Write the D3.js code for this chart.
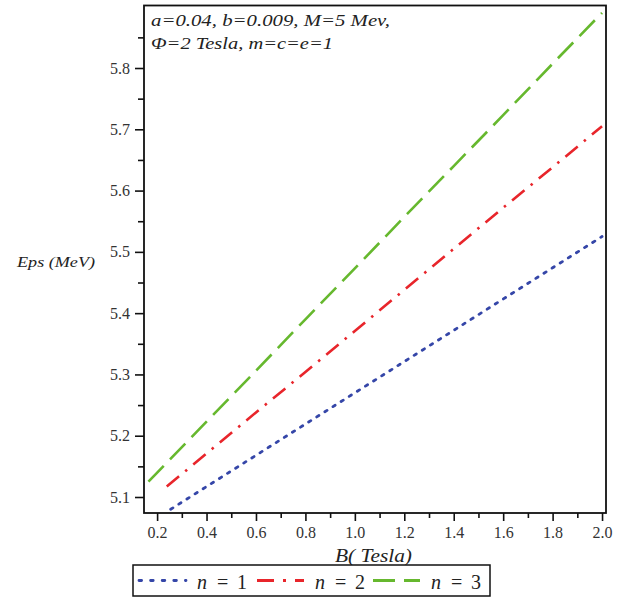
<!DOCTYPE html>
<html><head><meta charset="utf-8">
<script src="https://cdn.jsdelivr.net/npm/d3@7"></script>
<style>body{margin:0;background:#fff}svg{display:block}svg text{font-family:"Liberation Serif","Times New Roman",Times,serif}</style>
</head><body>
<svg id="c" width="624" height="597"></svg>
<script>
const seriesNames = ["n = 1", "n = 2", "n = 3"];
const bN1 = [0.255, 0.4, 0.6, 0.8, 1.0, 1.2, 1.4, 1.6, 1.8, 2.0];
const eN1 = [5.080, 5.117, 5.168, 5.219, 5.270, 5.321, 5.372, 5.423, 5.474, 5.525];
const bN2 = [0.239, 0.4, 0.6, 0.8, 1.0, 1.2, 1.4, 1.6, 1.8, 2.0];
const eN2 = [5.117, 5.171, 5.238, 5.304, 5.371, 5.438, 5.505, 5.572, 5.638, 5.705];
const bN3 = [0.165, 0.4, 0.6, 0.8, 1.0, 1.2, 1.4, 1.6, 1.8, 2.0];
const eN3 = [5.125, 5.223, 5.306, 5.390, 5.473, 5.557, 5.640, 5.723, 5.807, 5.890];
const xTicks = [0.2, 0.4, 0.6, 0.8, 1.0, 1.2, 1.4, 1.6, 1.8, 2.0];
const xMinor = [0.3, 0.5, 0.7, 0.9, 1.1, 1.3, 1.5, 1.7, 1.9];
const yTicks = [5.1, 5.2, 5.3, 5.4, 5.5, 5.6, 5.7, 5.8];
const yMinor = [5.15, 5.25, 5.35, 5.45, 5.55, 5.65, 5.75, 5.85];

const colors = ["#3546a8", "#e8252b", "#66b82e"];
const dashes = ["2.6,7", "16,8,2.5,8", "22,9"];
const caps = ["round", "butt", "butt"];

const svg = d3.select("#c");
const L = 144, R = 606, T = 5.5, B = 513;
const x = d3.scaleLinear().domain([0.147, 2.016]).range([L, R]);
const y = d3.scaleLinear().domain([5.0739, 5.902]).range([B, T]);

svg.append("defs").append("clipPath").attr("id","clip")
  .append("rect").attr("x", L).attr("y", T).attr("width", R-L).attr("height", B-T);

const xMaj = d3.axisBottom(x).tickValues(xTicks).tickFormat(d3.format(".1f")).tickSizeOuter(0).tickSize(8).tickPadding(6);
const xMin = d3.axisBottom(x).tickValues(xMinor).tickFormat("").tickSizeOuter(0).tickSize(5);
const yMaj = d3.axisLeft(y).tickValues(yTicks).tickFormat(d3.format(".1f")).tickSizeOuter(0).tickSize(9).tickPadding(5);
const yMin = d3.axisLeft(y).tickValues(yMinor).tickFormat("").tickSizeOuter(0).tickSize(6);

function styleAxis(g){
  g.attr("font-family", null);
  g.select(".domain").remove();
  g.selectAll("line").attr("stroke","#111").attr("stroke-width",1.6);
  g.selectAll("text").attr("font-size", 16).attr("fill","#333");
}
svg.append("g").attr("transform",`translate(0,${B})`).call(xMaj).call(styleAxis);
svg.append("g").attr("transform",`translate(0,${B})`).call(xMin).call(styleAxis);
svg.append("g").attr("transform",`translate(${L},0)`).call(yMaj).call(styleAxis);
svg.append("g").attr("transform",`translate(${L},0)`).call(yMin).call(styleAxis);

const data = [[bN1,eN1],[bN2,eN2],[bN3,eN3]];
const line = d3.line().x(d=>x(d[0])).y(d=>y(d[1]));
const gl = svg.append("g").attr("clip-path","url(#clip)");
data.forEach((s,i)=>{
  const pts = s[0].map((b,j)=>[b, s[1][j]]);
  gl.append("path").attr("d", line(pts)).attr("fill","none")
    .attr("stroke", colors[i]).attr("stroke-width", i===0?2.8:2.6)
    .attr("stroke-dasharray", dashes[i]).attr("stroke-linecap", caps[i]);
});

svg.append("rect").attr("x",L).attr("y",T).attr("width",R-L).attr("height",B-T)
  .attr("fill","none").attr("stroke","#111").attr("stroke-width",1.8);

svg.append("text").attr("x",151).attr("y",26).attr("font-style","italic")
  .attr("font-size",17).attr("fill","#222").attr("textLength",239).attr("lengthAdjust","spacingAndGlyphs")
  .text("a=0.04, b=0.009, M=5 Mev,");
svg.append("text").attr("x",151).attr("y",49).attr("font-style","italic")
  .attr("font-size",17).attr("fill","#222").attr("textLength",182).attr("lengthAdjust","spacingAndGlyphs")
  .text("Φ=2 Tesla, m=c=e=1");

svg.append("text").attr("x",17).attr("y",267).attr("font-style","italic")
  .attr("font-size",15).attr("fill","#222").attr("textLength",78).attr("lengthAdjust","spacingAndGlyphs")
  .text("Eps (MeV)");
svg.append("text").attr("x",335).attr("y",562).attr("font-style","italic")
  .attr("font-size",18).attr("fill","#222").attr("textLength",77).attr("lengthAdjust","spacingAndGlyphs")
  .text("B( Tesla)");

svg.append("rect").attr("x",133).attr("y",565).attr("width",357).attr("height",31)
  .attr("fill","#fff").attr("stroke","#111").attr("stroke-width",1.5);
const legX = [139, 257, 373];
const legY = 580.5;
seriesNames.forEach((nm,i)=>{
  const x0 = legX[i];
  svg.append("line").attr("x1",x0).attr("x2",x0+47).attr("y1",legY).attr("y2",legY)
    .attr("stroke",colors[i]).attr("stroke-width",2.8)
    .attr("stroke-dasharray", i===0?"2.6,9":(i===1?"17,9,3,9":"22,9"))
    .attr("stroke-linecap", caps[i]);
  const parts = nm.split(" ");
  const tx = x0 + 58;
  svg.append("text").attr("x",tx).attr("y",589).attr("font-style","italic")
    .attr("font-size",20).attr("fill","#222").text(parts[0]);
  svg.append("text").attr("x",tx+20).attr("y",589)
    .attr("font-size",20).attr("fill","#222").text(parts[1]);
  svg.append("text").attr("x",tx+40).attr("y",589)
    .attr("font-size",20).attr("fill","#222").text(parts[2]);
});
</script>
</body></html>
